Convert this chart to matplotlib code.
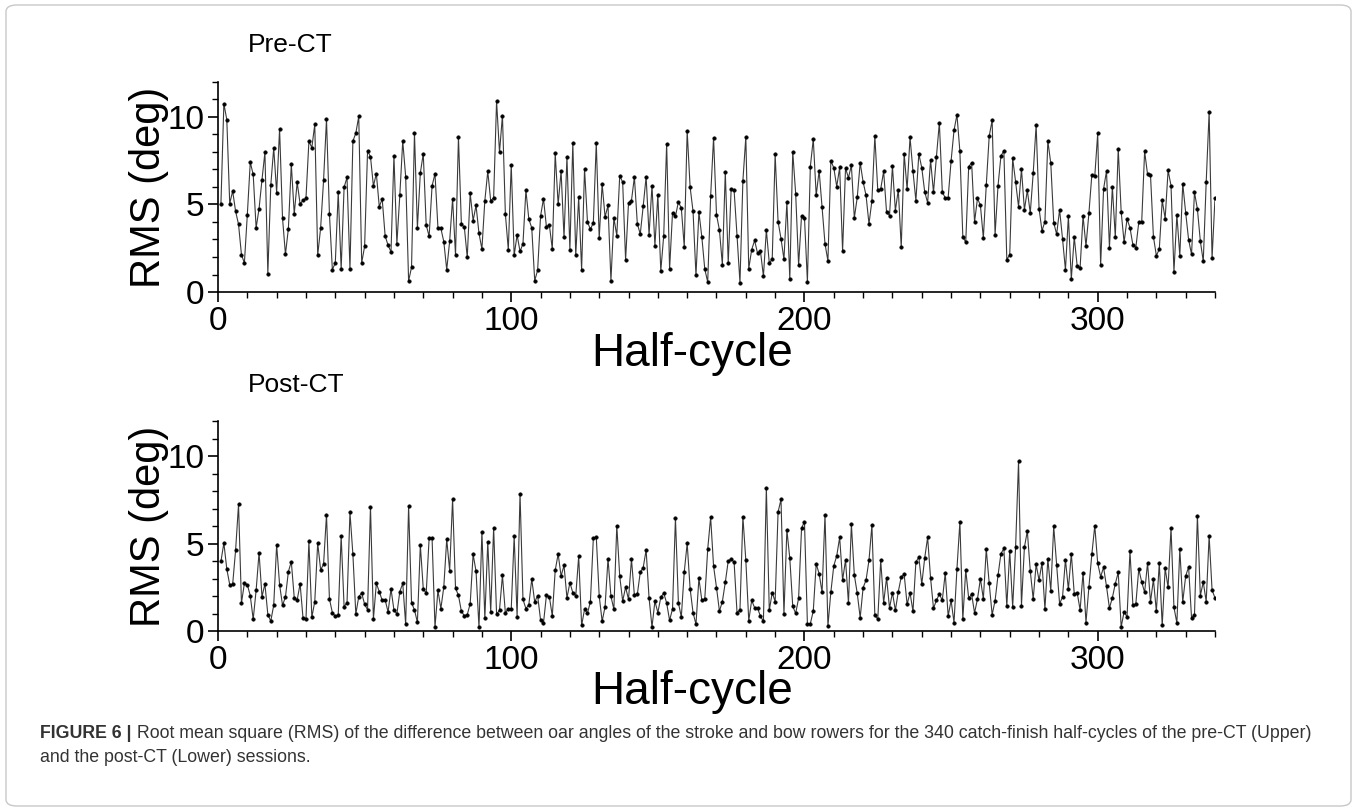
import numpy as np
import matplotlib
matplotlib.use("Agg")
import matplotlib.pyplot as plt
from matplotlib.patches import FancyBboxPatch
from matplotlib.ticker import MultipleLocator

plt.rcParams['font.family'] = ['Liberation Sans', 'DejaVu Sans']

pre_ct = [
    5.05, 10.76, 9.85, 5.05, 5.77, 4.61, 3.87, 2.13, 1.66, 4.42, 7.41, 6.72, 3.66, 4.76, 6.42, 7.98, 1.05, 6.10, 8.23, 5.68,
    9.31, 4.23, 2.15, 3.62, 7.31, 4.46, 6.27, 5.03, 5.24, 5.35, 8.61, 8.25, 9.58, 2.10, 3.66, 6.38, 9.87, 4.46, 1.28, 1.66,
    5.70, 1.31, 5.98, 6.55, 1.31, 8.63, 9.07, 10.04, 1.66, 2.61, 8.06, 7.73, 6.06, 6.76, 4.88, 5.31, 3.20, 2.67, 2.29, 7.79,
    2.76, 5.52, 8.63, 6.59, 0.63, 1.41, 9.09, 3.66, 6.80, 7.90, 3.83, 3.18, 6.06, 6.76, 3.68, 3.64, 2.88, 1.28, 2.90, 5.33,
    2.11, 8.86, 3.87, 3.71, 1.98, 5.64, 4.08, 4.95, 3.35, 2.46, 5.22, 6.90, 5.20, 5.39, 10.90, 7.98, 10.08, 4.46, 2.42, 7.28,
    2.10, 3.26, 2.32, 2.76, 5.81, 4.17, 3.66, 0.65, 1.24, 4.34, 5.33, 3.73, 3.83, 2.46, 7.92, 5.01, 6.91, 3.12, 7.71, 2.40,
    8.51, 2.10, 5.41, 1.26, 7.03, 4.00, 3.58, 3.96, 8.53, 3.07, 6.17, 4.29, 4.95, 0.65, 4.23, 3.22, 6.65, 6.27, 1.83, 5.10,
    5.22, 6.57, 3.90, 3.31, 4.90, 6.59, 3.26, 6.08, 2.65, 5.56, 1.20, 3.22, 8.48, 1.30, 4.53, 4.32, 5.14, 4.80, 2.59, 9.20,
    6.00, 4.61, 0.95, 4.57, 3.14, 1.31, 0.57, 5.47, 8.82, 4.42, 3.54, 1.56, 6.86, 1.66, 5.90, 5.81, 3.22, 0.53, 6.36, 8.86,
    1.33, 2.42, 2.95, 2.21, 2.32, 0.90, 3.54, 1.66, 1.87, 7.87, 4.02, 3.05, 1.87, 5.12, 0.74, 8.02, 5.62, 1.54, 4.36, 4.25,
    0.59, 7.16, 8.74, 5.52, 6.93, 4.84, 2.76, 1.77, 7.49, 7.10, 6.02, 7.12, 2.34, 7.07, 6.53, 7.24, 4.23, 5.41, 7.39, 6.29,
    5.52, 3.89, 5.22, 8.91, 5.81, 5.89, 6.90, 4.55, 4.36, 7.18, 4.65, 5.85, 2.55, 7.89, 5.87, 8.84, 6.90, 5.22, 7.89, 7.10,
    5.73, 5.10, 7.54, 5.70, 7.73, 9.68, 5.73, 5.37, 5.39, 7.49, 9.24, 10.13, 8.04, 3.16, 2.84, 7.16, 7.39, 4.00, 5.35, 4.95,
    3.09, 6.11, 8.91, 9.81, 3.28, 6.06, 7.77, 8.08, 1.85, 2.13, 7.64, 6.30, 4.88, 7.03, 4.70, 5.81, 4.51, 6.78, 9.54, 4.76,
    3.50, 4.02, 8.63, 7.35, 3.96, 3.30, 4.70, 3.05, 1.26, 4.32, 0.74, 3.14, 1.49, 1.39, 4.34, 2.63, 4.50, 6.70, 6.61, 9.07,
    1.52, 5.89, 6.91, 2.53, 6.00, 3.14, 8.19, 4.59, 2.84, 4.17, 3.68, 2.69, 2.53, 3.98, 3.98, 8.04, 6.72, 6.70, 3.16, 2.08,
    2.44, 5.24, 4.19, 6.95, 6.08, 1.16, 4.40, 2.08, 6.19, 4.53, 2.99, 2.15, 5.70, 4.74, 2.91, 1.75, 6.29, 10.29, 1.94, 5.37,
]

post_ct = [
    3.98, 5.03, 3.54, 2.65, 2.67, 4.61, 7.24, 1.60, 2.72, 2.65, 2.02, 0.67, 2.32, 4.48, 1.96, 2.69, 0.93, 0.57, 1.47, 4.93,
    2.65, 1.47, 1.94, 3.39, 3.96, 1.90, 1.77, 2.70, 0.72, 0.67, 5.12, 0.78, 1.68, 5.03, 3.50, 3.81, 6.65, 1.83, 1.05, 0.84,
    0.90, 5.43, 1.39, 1.62, 6.78, 4.38, 0.97, 1.96, 2.17, 1.52, 1.22, 7.10, 0.69, 2.72, 2.25, 1.75, 1.77, 1.09, 2.40, 1.20,
    0.97, 2.25, 2.72, 0.38, 7.14, 1.62, 1.20, 0.50, 4.91, 2.42, 2.15, 5.31, 5.31, 0.23, 2.32, 1.28, 2.51, 5.24, 3.45, 7.54,
    2.44, 2.04, 1.12, 0.88, 0.93, 1.56, 4.38, 3.41, 0.21, 5.68, 0.72, 5.10, 1.09, 5.90, 0.95, 1.20, 3.18, 1.03, 1.28, 1.26,
    5.41, 0.82, 7.85, 1.81, 1.28, 1.50, 2.97, 1.66, 2.02, 0.63, 0.46, 2.04, 1.96, 0.86, 3.47, 4.40, 3.14, 3.75, 1.89, 2.76,
    2.19, 2.00, 4.27, 0.32, 1.24, 1.01, 1.68, 5.30, 5.37, 2.00, 0.55, 1.39, 4.13, 1.98, 1.24, 6.02, 3.12, 1.71, 2.50, 1.81,
    4.11, 2.04, 2.10, 3.35, 3.62, 4.63, 1.89, 0.23, 1.70, 1.05, 1.92, 2.17, 1.60, 0.61, 1.26, 6.46, 1.62, 0.80, 3.37, 5.01,
    2.42, 1.05, 0.38, 3.01, 1.75, 1.83, 4.67, 6.50, 3.71, 2.48, 1.14, 1.68, 2.78, 4.00, 4.11, 3.94, 1.05, 1.20, 6.53, 4.04,
    0.59, 1.75, 1.33, 1.30, 0.84, 0.55, 8.19, 1.18, 2.19, 1.68, 6.80, 7.52, 0.97, 5.77, 4.15, 1.41, 1.01, 1.87, 5.87, 6.25,
    0.42, 0.42, 1.14, 3.83, 3.28, 2.21, 6.63, 0.29, 2.23, 3.73, 4.29, 5.35, 2.90, 4.06, 1.60, 6.10, 3.20, 2.15, 0.76, 2.48,
    2.91, 4.04, 6.04, 0.90, 0.67, 4.04, 1.60, 3.05, 1.31, 2.19, 1.18, 2.25, 3.09, 3.24, 1.52, 2.19, 1.12, 3.94, 4.23, 2.67,
    4.17, 5.35, 3.03, 1.30, 1.75, 2.11, 1.75, 3.31, 0.86, 1.75, 0.48, 3.56, 6.23, 0.67, 3.49, 1.87, 2.11, 1.03, 1.83, 2.99,
    1.83, 4.67, 2.72, 0.93, 1.73, 3.18, 4.42, 4.72, 1.41, 4.57, 1.37, 4.78, 9.70, 1.45, 4.78, 5.71, 3.43, 1.83, 3.81, 2.90,
    3.89, 1.26, 4.13, 2.30, 5.98, 3.75, 1.56, 1.94, 4.08, 2.38, 4.42, 2.13, 2.19, 1.20, 3.33, 0.48, 2.51, 4.38, 6.02, 3.87,
    3.10, 3.64, 2.55, 1.31, 1.90, 2.70, 3.35, 0.23, 1.10, 0.80, 4.55, 1.49, 1.54, 3.54, 2.80, 2.21, 3.89, 1.66, 2.95, 1.12,
    3.87, 0.32, 3.58, 2.50, 5.89, 1.35, 0.46, 4.67, 1.66, 3.14, 3.66, 0.74, 0.91, 6.59, 2.02, 2.80, 1.68, 5.43, 2.34, 1.89,
]

panel_titles = ["Pre-CT", "Post-CT"]
x_label = "Half-cycle"
y_label = "RMS (deg)"
caption_bold = "FIGURE 6 |"
caption_rest_1 = (" Root mean square (RMS) of the difference between oar angles of the stroke and bow rowers "
                  "for the 340 catch-finish half-cycles of the pre-CT (Upper)")
caption_line_2 = "and the post-CT (Lower) sessions."

W, H = 1357, 811
fig = plt.figure(figsize=(W / 100, H / 100), dpi=100)

def fx(px):
    return px / W

def fy(py):
    return 1 - py / H

# outer rounded border
border = FancyBboxPatch((fx(6), fy(806)), fx(1345), (806 - 5) / H,
                        boxstyle="round,pad=0,rounding_size=0.008",
                        transform=fig.transFigure, fill=False,
                        edgecolor="#c8c8c8", linewidth=1.0)
fig.patches.append(border)

ax_left, ax_right = 218, 1215
panels = [
    dict(data=pre_ct, bottom=292, title_y=45, xlabel_y=354),
    dict(data=post_ct, bottom=631, title_y=385, xlabel_y=692),
]
px_per_unit = 17.5
ymax = 12

for p, title in zip(panels, panel_titles):
    top = p["bottom"] - ymax * px_per_unit
    ax = fig.add_axes([fx(ax_left), fy(p["bottom"]), (ax_right - ax_left) / W,
                       (p["bottom"] - top) / H])
    y = np.array(p["data"])
    x = np.arange(1, len(y) + 1)
    ax.plot(x, y, '-', color='#3a3a3a', linewidth=0.8, marker='o',
            markersize=2.6, markerfacecolor='black', markeredgecolor='black',
            markeredgewidth=0.3)
    ax.set_xlim(0, 340)
    ax.set_ylim(0, ymax)
    ax.spines['top'].set_visible(False)
    ax.spines['right'].set_visible(False)
    for s in ('left', 'bottom'):
        ax.spines[s].set_linewidth(1.2)
        ax.spines[s].set_color('black')
    ax.xaxis.set_major_locator(MultipleLocator(100))
    ax.xaxis.set_minor_locator(MultipleLocator(10))
    ax.yaxis.set_major_locator(MultipleLocator(5))
    ax.yaxis.set_minor_locator(MultipleLocator(1))
    ax.tick_params(which='major', direction='out', length=7, width=1.2,
                   labelsize=24, pad=3, color='black')
    ax.tick_params(which='minor', direction='out', length=4, width=1.0,
                   color='black')
    ax.set_facecolor('none')
    fig.text(fx(248), fy(p["title_y"]), title, fontsize=19, ha='left',
             va='center', color='black')
    fig.text(fx(692), fy(p["xlabel_y"]), x_label, fontsize=33, ha='center',
             va='center', color='black')
    mid = (p["bottom"] + top) / 2
    fig.text(fx(149), fy(mid), y_label, fontsize=30, ha='center',
             va='center', rotation=90, color='black')

# caption
cap_color = '#333333'
cap_size = 12.8
t1 = fig.text(fx(40), fy(733), caption_bold, fontsize=cap_size, fontweight='bold',
              ha='left', va='center', color=cap_color)
fig.canvas.draw()
bb = t1.get_window_extent(renderer=fig.canvas.get_renderer())
fig.text(bb.x1 / W, fy(733), caption_rest_1, fontsize=cap_size, ha='left',
         va='center', color=cap_color)
fig.text(fx(40), fy(757), caption_line_2, fontsize=cap_size, ha='left',
         va='center', color=cap_color)

fig.savefig("out.png", dpi=100)
